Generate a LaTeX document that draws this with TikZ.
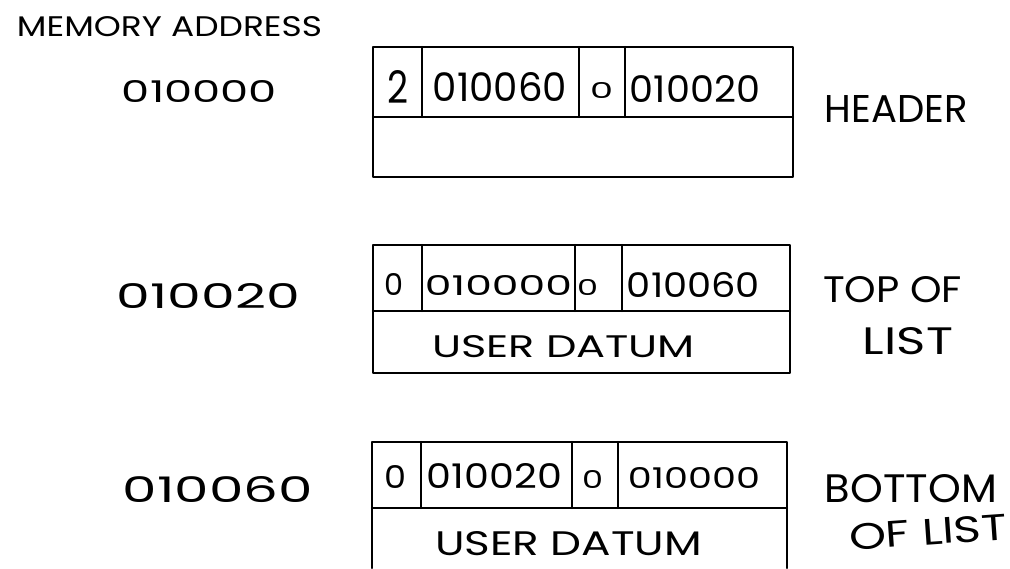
\documentclass[tikz,border=0pt]{standalone}
\usepackage{fontspec}
\setmainfont{Poppins}
\usepackage{graphicx}
\newdimen\pxu \pxu=0.75pt
\newcommand\hw[3]{\resizebox{#1\pxu}{#2\pxu}{#3}}
\tikzset{
  txt/.style={inner sep=0pt, outer sep=0pt, anchor=center, text=black},
  boxline/.style={draw=black, line width=1.8pt, line cap=round, line join=round}
}
\begin{document}
\begin{tikzpicture}[x=0.75pt,y=-0.75pt]
\useasboundingbox (0,0) rectangle (1010,568);
\fill[white] (0,0) rectangle (1010,568);

% ---------- left labels ----------
\node[txt] (mem) at (169.5,27) {\hw{305}{20}{MEMORY ADDRESS}};
\node[txt] (a1) at (199.5,91) {\hw{155}{22}{010000}};
\node[txt] (a2) at (208.5,295.5) {\hw{183}{25}{010020}};
\node[txt] (a3) at (218,490) {\hw{190}{26}{010060}};

% ---------- box 1 (header) ----------
\draw[boxline] (373,47) rectangle (793,177);
\draw[boxline] (373,117) -- (793,117);
\draw[boxline] (422,47) -- (422,117);
\draw[boxline] (579,47) -- (579,117);
\draw[boxline] (625,47) -- (625,117);
\node[txt] (h1) at (397.5,86.5) {\hw{21}{33}{2}};
\node[txt] (h2) at (500,87.5) {\hw{134}{29}{010060}};
\node[txt] (h3) at (601.5,90.5) {\hw{23}{16}{0}};
\node[txt] (h4) at (695,88.5) {\hw{130}{27}{010020}};

% ---------- box 2 (top of list) ----------
\draw[boxline] (373,245) rectangle (790,373);
\draw[boxline] (373,311) -- (790,311);
\draw[boxline] (422,245) -- (422,311);
\draw[boxline] (575,245) -- (575,311);
\draw[boxline] (622,245) -- (622,311);
\node[txt] (t1) at (393.5,284) {\hw{19}{22}{0}};
\node[txt] (t2) at (498.5,285) {\hw{147}{20}{010000}};
\node[txt] (t3) at (587.5,287.5) {\hw{21}{16}{0}};
\node[txt] (t4) at (693.5,285.5) {\hw{133}{25}{010060}};
\node[txt] (t5) at (563.5,347) {\hw{263}{22}{USER DATUM}};

% ---------- box 3 (bottom of list) ----------
\draw[boxline] (372,568) -- (372,442) -- (787,442) -- (787,568);
\draw[boxline] (372,508) -- (787,508);
\draw[boxline] (421,442) -- (421,508);
\draw[boxline] (572,442) -- (572,508);
\draw[boxline] (618,442) -- (618,508);
\node[txt] (b1) at (395,476.5) {\hw{22}{23}{0}};
\node[txt] (b2) at (494.5,475.5) {\hw{135}{25}{010020}};
\node[txt] (b3) at (592.5,479) {\hw{21}{18}{0}};
\node[txt] (b4) at (694,477.5) {\hw{132}{21}{010000}};
\node[txt] (b5) at (568.5,544) {\hw{267}{24}{USER DATUM}};

% ---------- right labels ----------
\node[txt] (hdr) at (896.5,108.5) {\hw{143}{27}{HEADER}};
\node[txt] (top1) at (892.5,290) {\hw{139}{26}{TOP OF}};
\node[txt] (top2) at (908,341.5) {\hw{90}{27}{LIST}};
\node[txt] (bot1) at (911,489) {\hw{172}{28}{BOTTOM}};
\node[txt,rotate=4] (bot2) at (928,532) {\hw{158}{26}{OF LIST}};
\end{tikzpicture}
\end{document}
